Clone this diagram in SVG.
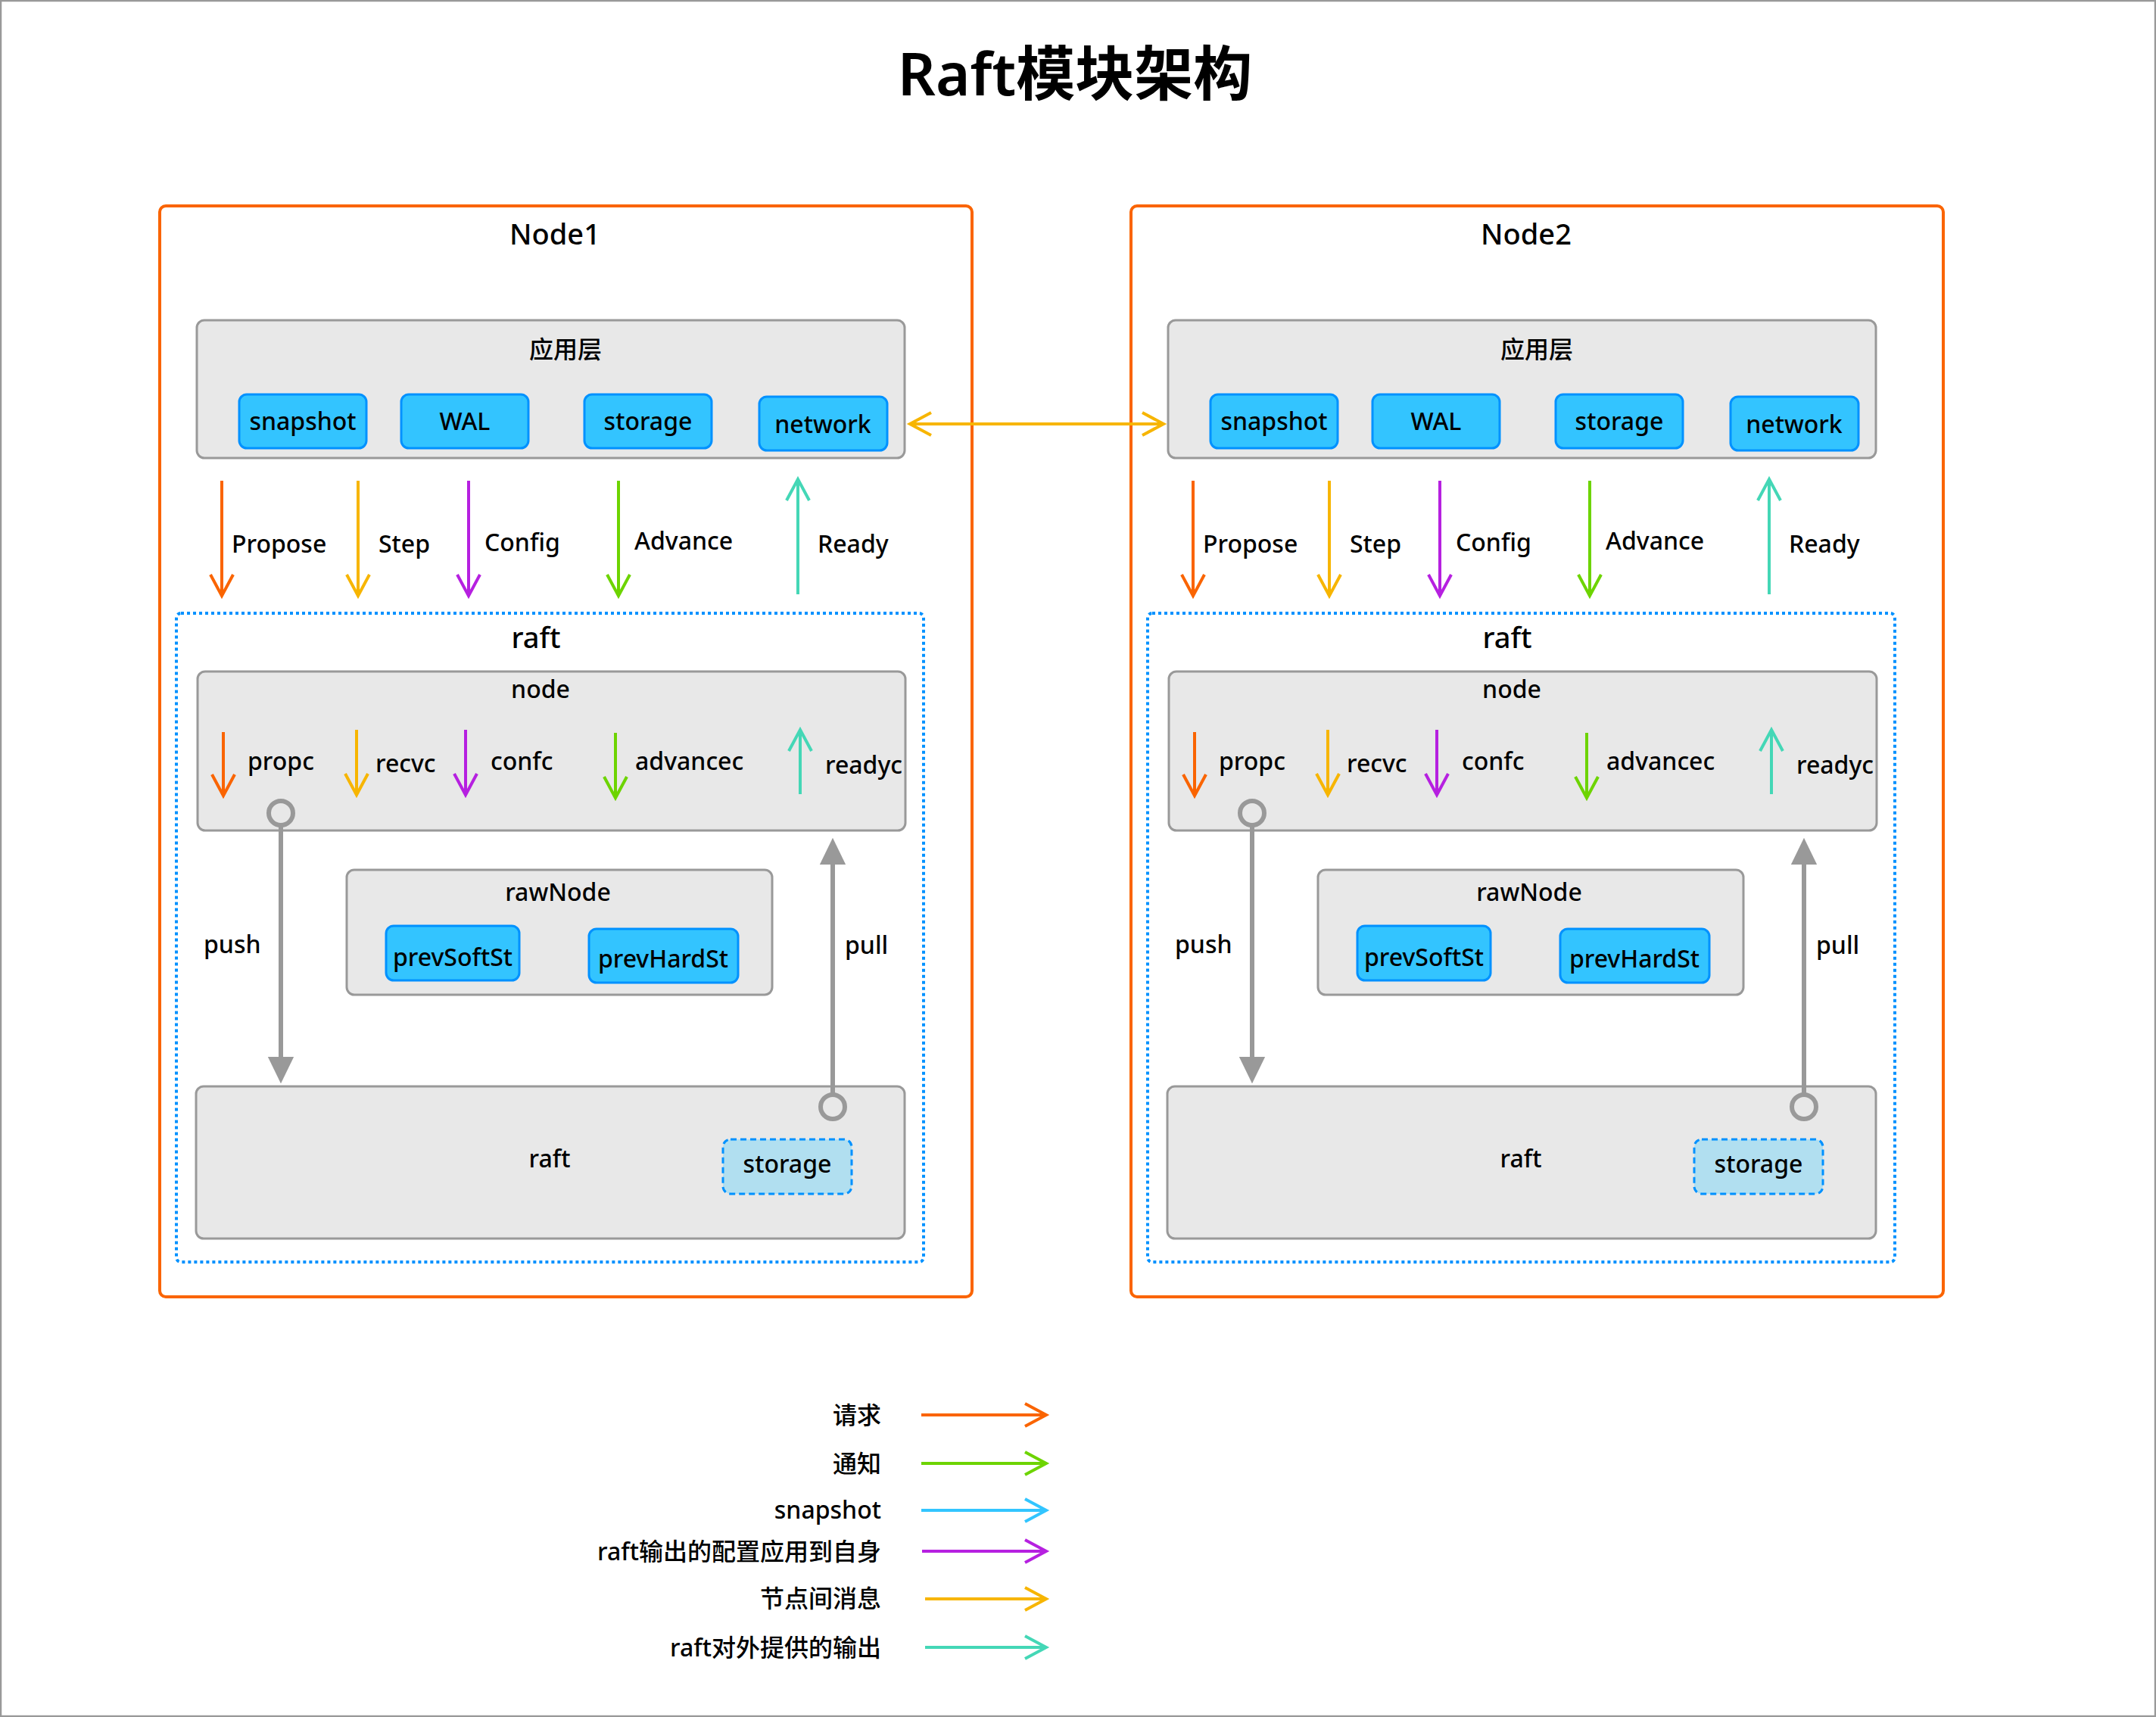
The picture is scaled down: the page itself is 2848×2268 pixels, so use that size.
<svg xmlns="http://www.w3.org/2000/svg" width="2848" height="2268" viewBox="0 0 2848 2268">
<style>
text{font-family:"Noto Sans","Noto Sans CJK SC",sans-serif;fill:#000;font-size:32px;font-weight:500}
.t{font-size:78px;font-weight:600}
.h{font-size:38px}
.mid{text-anchor:middle}
.end{text-anchor:end}
.frame{fill:none;stroke:#fa6400;stroke-width:4}
.grey{fill:#e8e8e8;stroke:#999;stroke-width:3}
.blue{fill:#33c4ff;stroke:#0091ff;stroke-width:3}
.dot{fill:none;stroke:#0091ff;stroke-width:4;stroke-dasharray:4 4}
.dash{fill:#b1dff0;stroke:#0091ff;stroke-width:3;stroke-dasharray:8 5}
.ln{fill:none;stroke-width:4}
.or{stroke:#fa6400}.ye{stroke:#f7b500}.pu{stroke:#b620e0}.gr{stroke:#6dd400}.te{stroke:#44d7b6}.bl{stroke:#32c5ff}
.gl{fill:none;stroke:#999;stroke-width:6}
</style>
<defs>
<marker id="m-or" markerUnits="userSpaceOnUse" markerWidth="40" markerHeight="40" viewBox="-34 -20 40 40" refX="0" refY="0" orient="auto-start-reverse"><path d="M-28,-15 L0,0 L-28,15" fill="none" stroke="#fa6400" stroke-width="4"/></marker>
<marker id="m-ye" markerUnits="userSpaceOnUse" markerWidth="40" markerHeight="40" viewBox="-34 -20 40 40" refX="0" refY="0" orient="auto-start-reverse"><path d="M-28,-15 L0,0 L-28,15" fill="none" stroke="#f7b500" stroke-width="4"/></marker>
<marker id="m-pu" markerUnits="userSpaceOnUse" markerWidth="40" markerHeight="40" viewBox="-34 -20 40 40" refX="0" refY="0" orient="auto-start-reverse"><path d="M-28,-15 L0,0 L-28,15" fill="none" stroke="#b620e0" stroke-width="4"/></marker>
<marker id="m-gr" markerUnits="userSpaceOnUse" markerWidth="40" markerHeight="40" viewBox="-34 -20 40 40" refX="0" refY="0" orient="auto-start-reverse"><path d="M-28,-15 L0,0 L-28,15" fill="none" stroke="#6dd400" stroke-width="4"/></marker>
<marker id="m-te" markerUnits="userSpaceOnUse" markerWidth="40" markerHeight="40" viewBox="-34 -20 40 40" refX="0" refY="0" orient="auto-start-reverse"><path d="M-28,-15 L0,0 L-28,15" fill="none" stroke="#44d7b6" stroke-width="4"/></marker>
<marker id="m-bl" markerUnits="userSpaceOnUse" markerWidth="40" markerHeight="40" viewBox="-34 -20 40 40" refX="0" refY="0" orient="auto-start-reverse"><path d="M-28,-15 L0,0 L-28,15" fill="none" stroke="#32c5ff" stroke-width="4"/></marker>
<marker id="m-tri" markerUnits="userSpaceOnUse" markerWidth="40" markerHeight="40" viewBox="-2 -20 42 40" refX="0" refY="0" orient="auto"><path d="M0,-18 L37,0 L0,18 Z" fill="#999"/></marker>
<g id="nodeBody">
<rect class="grey" x="260" y="423" width="935" height="182" rx="10"/>
<text class="mid" x="747" y="473">应用层</text>
<rect class="blue" x="316" y="521" width="168" height="71" rx="10"/>
<text class="mid" x="400" y="568">snapshot</text>
<rect class="blue" x="530" y="521" width="168" height="71" rx="10"/>
<text class="mid" x="614" y="568">WAL</text>
<rect class="blue" x="772" y="521" width="168" height="71" rx="10"/>
<text class="mid" x="856" y="568">storage</text>
<rect class="blue" x="1003" y="524" width="169" height="71" rx="10"/>
<text class="mid" x="1087" y="572">network</text>
<text x="306" y="730">Propose</text>
<text x="500" y="730">Step</text>
<text x="640" y="728">Config</text>
<text x="838" y="726">Advance</text>
<text x="1080" y="730">Ready</text>
<rect class="dot" x="233" y="810" width="987" height="857" rx="6"/>
<text class="h mid" x="708" y="856">raft</text>
<rect class="grey" x="261" y="887" width="935" height="210" rx="10"/>
<text class="mid" x="714" y="922">node</text>
<text x="327" y="1017">propc</text>
<text x="496" y="1020">recvc</text>
<text x="648" y="1017">confc</text>
<text x="839" y="1017">advancec</text>
<text x="1090" y="1022">readyc</text>
<rect class="grey" x="458" y="1149" width="562" height="165" rx="10"/>
<text class="mid" x="737" y="1190">rawNode</text>
<rect class="blue" x="510" y="1223" width="176" height="72" rx="10"/>
<text class="mid" x="598" y="1276">prevSoftSt</text>
<rect class="blue" x="778" y="1227" width="197" height="71" rx="10"/>
<text class="mid" x="876" y="1278">prevHardSt</text>
<text x="269" y="1259">push</text>
<text x="1116" y="1260">pull</text>
<rect class="grey" x="259" y="1435" width="936" height="201" rx="10"/>
<text class="mid" x="726" y="1542">raft</text>
<rect class="dash" x="955" y="1505" width="170" height="72" rx="10"/>
<text class="mid" x="1040" y="1549">storage</text>
</g>
<g id="nodeArrows">
<line class="ln or" x1="293" y1="635" x2="293" y2="787" marker-end="url(#m-or)"/>
<line class="ln ye" x1="473" y1="635" x2="473" y2="787" marker-end="url(#m-ye)"/>
<line class="ln pu" x1="619" y1="635" x2="619" y2="787" marker-end="url(#m-pu)"/>
<line class="ln gr" x1="817" y1="635" x2="817" y2="787" marker-end="url(#m-gr)"/>
<line class="ln te" x1="1054" y1="785" x2="1054" y2="633" marker-end="url(#m-te)"/>
<line class="ln or" x1="295" y1="967" x2="295" y2="1051" marker-end="url(#m-or)"/>
<line class="ln ye" x1="471" y1="964" x2="471" y2="1050" marker-end="url(#m-ye)"/>
<line class="ln pu" x1="615" y1="964" x2="615" y2="1050" marker-end="url(#m-pu)"/>
<line class="ln gr" x1="813" y1="968" x2="813" y2="1054" marker-end="url(#m-gr)"/>
<line class="ln te" x1="1057" y1="1049" x2="1057" y2="964" marker-end="url(#m-te)"/>
<circle class="gl" cx="371" cy="1074" r="16"/>
<line class="gl" x1="371" y1="1090" x2="371" y2="1396" marker-end="url(#m-tri)"/>
<circle class="gl" cx="1100" cy="1462" r="16"/>
<line class="gl" x1="1100" y1="1446" x2="1100" y2="1142" marker-end="url(#m-tri)"/>
</g>
</defs>
<rect x="1" y="1" width="2846" height="2266" fill="#fff" stroke="#999" stroke-width="2.5"/>
<text class="t mid" x="1420" y="126">Raft模块架构</text>
<g id="node1">
<rect class="frame" x="211" y="272" width="1073" height="1441" rx="8"/>
<text class="h mid" x="733" y="323">Node1</text>
<use href="#nodeBody"/>
</g>
<g id="node2">
<rect class="frame" x="1494" y="272" width="1073" height="1441" rx="8"/>
<text class="h mid" x="2016" y="323">Node2</text>
<use href="#nodeBody" transform="translate(1283,0)"/>
</g>
<g id="connectors">
<use href="#nodeArrows"/>
<use href="#nodeArrows" transform="translate(1283,0)"/>
<line class="ln ye" x1="1202" y1="560" x2="1537" y2="560" stroke-width="3.5" marker-start="url(#m-ye)" marker-end="url(#m-ye)"/>
</g>
<g id="legend">
<text class="end" x="1164" y="1881">请求</text>
<line class="ln or" x1="1217" y1="1869" x2="1382" y2="1869" marker-end="url(#m-or)"/>
<text class="end" x="1164" y="1945">通知</text>
<line class="ln gr" x1="1217" y1="1933" x2="1382" y2="1933" marker-end="url(#m-gr)"/>
<text class="end" x="1164" y="2006">snapshot</text>
<line class="ln bl" x1="1217" y1="1995" x2="1382" y2="1995" marker-end="url(#m-bl)"/>
<text class="end" x="1164" y="2061">raft输出的配置应用到自身</text>
<line class="ln pu" x1="1218" y1="2049" x2="1382" y2="2049" marker-end="url(#m-pu)"/>
<text class="end" x="1164" y="2123">节点间消息</text>
<line class="ln ye" x1="1222" y1="2112" x2="1382" y2="2112" marker-end="url(#m-ye)"/>
<text class="end" x="1164" y="2188">raft对外提供的输出</text>
<line class="ln te" x1="1222" y1="2176" x2="1382" y2="2176" marker-end="url(#m-te)"/>
</g>
</svg>
